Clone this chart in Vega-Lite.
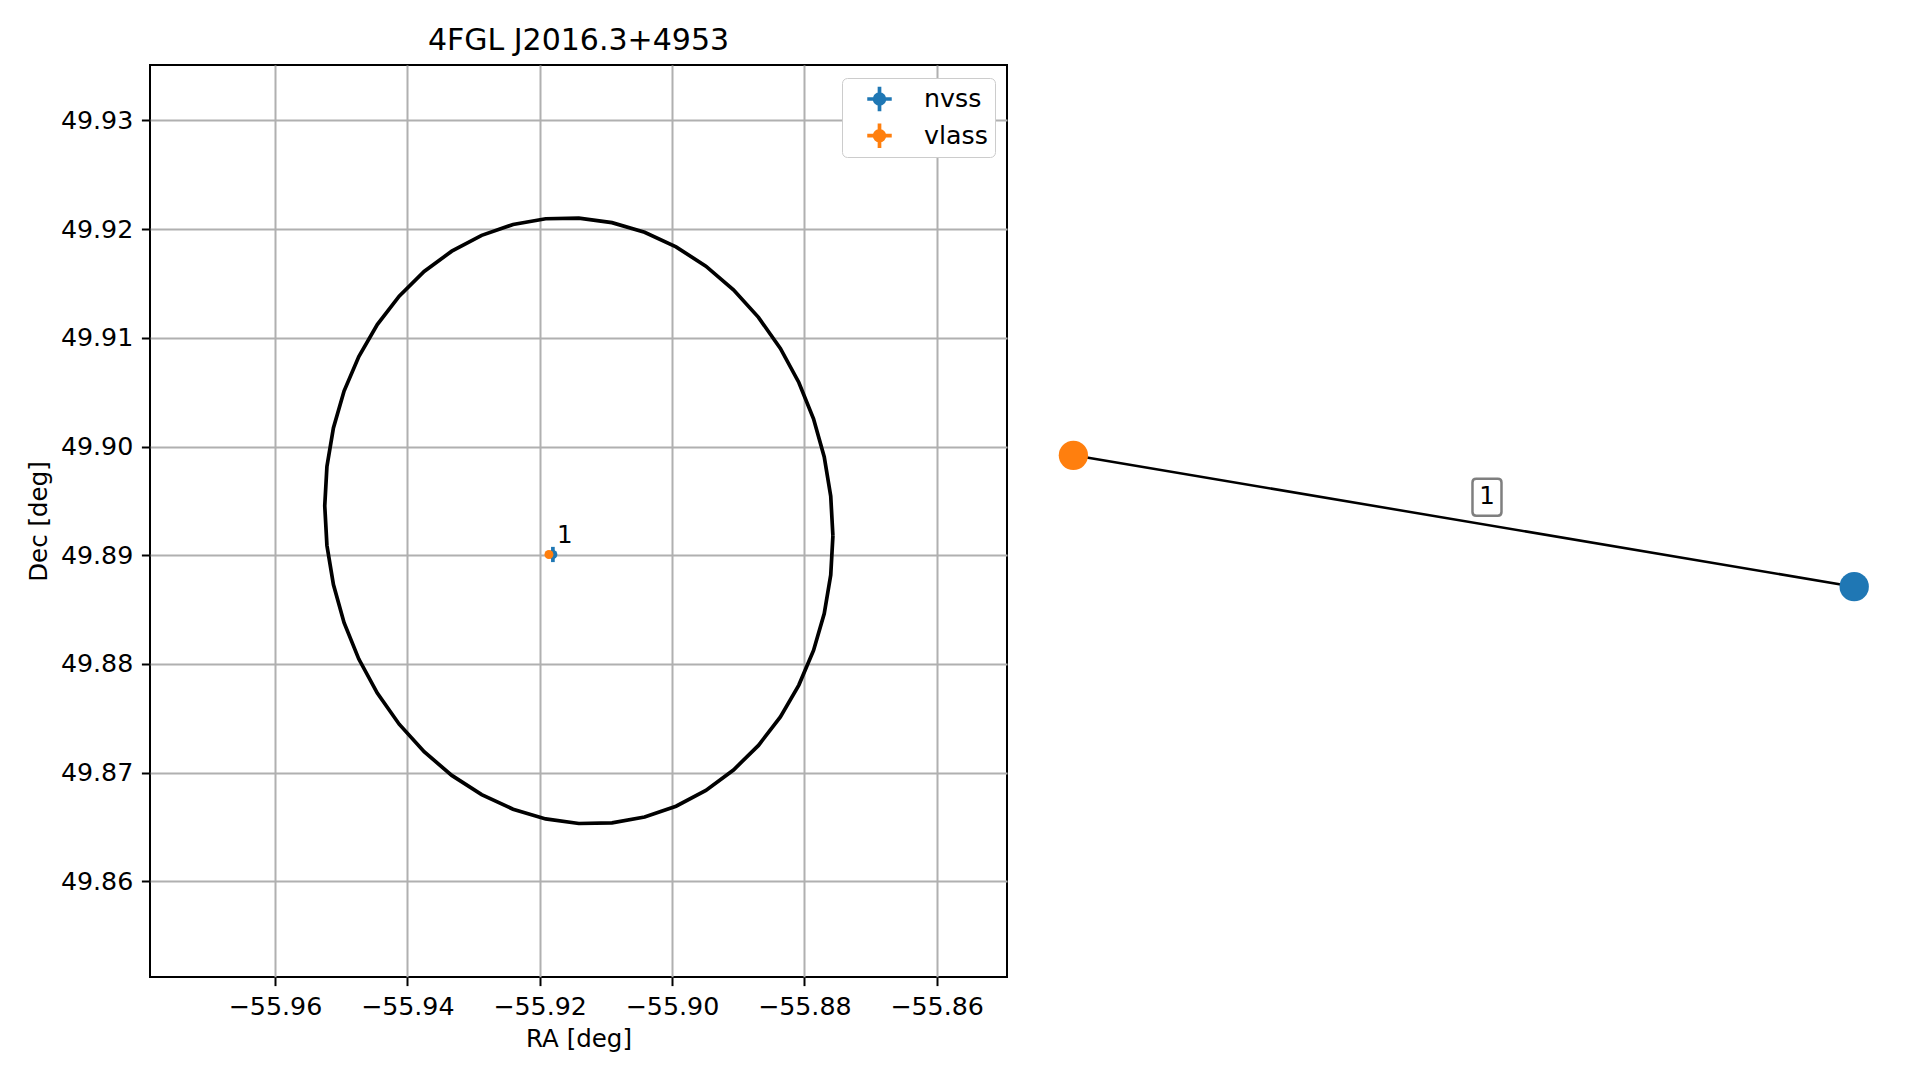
{
  "$schema": "https://vega.github.io/schema/vega-lite/v6.json",
  "background": "white",
  "padding": {"left": 25, "top": 24, "right": 5, "bottom": 5},
  "config": {
    "font": "DejaVu Sans",
    "view": {"stroke": null},
    "concat": {"spacing": 20},
    "title": {"font": "DejaVu Sans", "fontSize": 30, "fontWeight": "normal", "color": "black", "offset": 9.5, "anchor": "middle"},
    "axis": {
      "grid": true, "gridColor": "#b0b0b0", "gridWidth": 2,
      "domain": false, "ticks": true, "tickColor": "black", "tickWidth": 2, "tickSize": 8.6,
      "labelPadding": 8.6, "labelFont": "DejaVu Sans", "labelFontSize": 25.3, "labelColor": "black",
      "labelFlush": false, "labelOverlap": false,
      "titleFont": "DejaVu Sans", "titleFontSize": 24.5, "titleFontWeight": "normal", "titleColor": "black"
    }
  },
  "resolve": {"scale": {"color": "independent"}, "legend": {"color": "independent"}},
  "datasets": {
    "ellipse": [
      {"i": 0, "ra": -55.87567, "dec": 49.89179},
      {"i": 1, "ra": -55.87600, "dec": 49.89544},
      {"i": 2, "ra": -55.87698, "dec": 49.89904},
      {"i": 3, "ra": -55.87860, "dec": 49.90255},
      {"i": 4, "ra": -55.88082, "dec": 49.90589},
      {"i": 5, "ra": -55.88361, "dec": 49.90902},
      {"i": 6, "ra": -55.88692, "dec": 49.91188},
      {"i": 7, "ra": -55.89070, "dec": 49.91442},
      {"i": 8, "ra": -55.89487, "dec": 49.91659},
      {"i": 9, "ra": -55.89938, "dec": 49.91836},
      {"i": 10, "ra": -55.90413, "dec": 49.91970},
      {"i": 11, "ra": -55.90906, "dec": 49.92059},
      {"i": 12, "ra": -55.91407, "dec": 49.92101},
      {"i": 13, "ra": -55.91908, "dec": 49.92095},
      {"i": 14, "ra": -55.92401, "dec": 49.92042},
      {"i": 15, "ra": -55.92876, "dec": 49.91942},
      {"i": 16, "ra": -55.93327, "dec": 49.91797},
      {"i": 17, "ra": -55.93745, "dec": 49.91610},
      {"i": 18, "ra": -55.94122, "dec": 49.91383},
      {"i": 19, "ra": -55.94453, "dec": 49.91121},
      {"i": 20, "ra": -55.94732, "dec": 49.90828},
      {"i": 21, "ra": -55.94955, "dec": 49.90510},
      {"i": 22, "ra": -55.95116, "dec": 49.90171},
      {"i": 23, "ra": -55.95214, "dec": 49.89817},
      {"i": 24, "ra": -55.95247, "dec": 49.89455},
      {"i": 25, "ra": -55.95214, "dec": 49.89090},
      {"i": 26, "ra": -55.95116, "dec": 49.88730},
      {"i": 27, "ra": -55.94955, "dec": 49.88379},
      {"i": 28, "ra": -55.94732, "dec": 49.88045},
      {"i": 29, "ra": -55.94453, "dec": 49.87732},
      {"i": 30, "ra": -55.94122, "dec": 49.87446},
      {"i": 31, "ra": -55.93745, "dec": 49.87193},
      {"i": 32, "ra": -55.93327, "dec": 49.86975},
      {"i": 33, "ra": -55.92876, "dec": 49.86798},
      {"i": 34, "ra": -55.92401, "dec": 49.86664},
      {"i": 35, "ra": -55.91908, "dec": 49.86575},
      {"i": 36, "ra": -55.91407, "dec": 49.86533},
      {"i": 37, "ra": -55.90906, "dec": 49.86539},
      {"i": 38, "ra": -55.90413, "dec": 49.86592},
      {"i": 39, "ra": -55.89938, "dec": 49.86692},
      {"i": 40, "ra": -55.89487, "dec": 49.86837},
      {"i": 41, "ra": -55.89070, "dec": 49.87025},
      {"i": 42, "ra": -55.88692, "dec": 49.87251},
      {"i": 43, "ra": -55.88361, "dec": 49.87513},
      {"i": 44, "ra": -55.88082, "dec": 49.87806},
      {"i": 45, "ra": -55.87860, "dec": 49.88124},
      {"i": 46, "ra": -55.87698, "dec": 49.88463},
      {"i": 47, "ra": -55.87600, "dec": 49.88817},
      {"i": 48, "ra": -55.87567, "dec": 49.89179}
    ],
    "sources": [
      {"survey": "nvss", "ra": -55.91799, "dec": 49.89007, "ra_lo": -55.91819, "ra_hi": -55.91779, "dec_lo": 49.88937, "dec_hi": 49.89077},
      {"survey": "vlass", "ra": -55.91859, "dec": 49.89007, "ra_lo": -55.91864, "ra_hi": -55.91854, "dec_lo": 49.89002, "dec_hi": 49.89012}
    ],
    "annot": [
      {"ra": -55.91799, "dec": 49.89007, "label": "1"}
    ],
    "nodes": [
      {"survey": "vlass", "x": -1, "y": 0.1683},
      {"survey": "nvss", "x": 1, "y": -0.1683}
    ],
    "edges": [
      {"x1": -1, "y1": 0.1683, "x2": 1, "y2": -0.1683}
    ],
    "edgelabels": [
      {"x": 0.0594, "y": 0.0607, "label": "1"}
    ]
  },
  "hconcat": [
    {
      "width": 857,
      "height": 912,
      "title": {"text": "4FGL J2016.3+4953"},
      "view": {"stroke": "black", "strokeWidth": 2},
      "layer": [
        {
          "data": {"name": "ellipse"},
          "mark": {"type": "line", "color": "black", "strokeWidth": 3.7},
          "encoding": {
            "x": {"field": "ra", "type": "quantitative",
                  "scale": {"domain": [-55.97888, -55.84936], "nice": false, "zero": false},
                  "axis": {"title": "RA [deg]", "values": [-55.96, -55.94, -55.92, -55.90, -55.88, -55.86], "format": ".2f", "titlePadding": 8}},
            "y": {"field": "dec", "type": "quantitative",
                  "scale": {"domain": [49.85121, 49.93509], "nice": false, "zero": false},
                  "axis": {"title": "Dec [deg]", "values": [49.86, 49.87, 49.88, 49.89, 49.90, 49.91, 49.92, 49.93], "format": ".2f", "titlePadding": 9}},
            "order": {"field": "i", "type": "quantitative"}
          }
        },
        {
          "data": {"name": "sources"},
          "mark": {"type": "rule", "strokeWidth": 3.7},
          "encoding": {
            "x": {"field": "ra", "type": "quantitative"},
            "y": {"field": "dec_lo", "type": "quantitative"},
            "y2": {"field": "dec_hi"},
            "color": {"field": "survey", "type": "nominal", "scale": {"domain": ["nvss", "vlass"], "range": ["#1f77b4", "#ff7f0e"]}}
          }
        },
        {
          "data": {"name": "sources"},
          "mark": {"type": "rule", "strokeWidth": 3.7},
          "encoding": {
            "x": {"field": "ra_lo", "type": "quantitative"},
            "x2": {"field": "ra_hi"},
            "y": {"field": "dec", "type": "quantitative"},
            "color": {"field": "survey", "type": "nominal"}
          }
        },
        {
          "data": {"name": "sources"},
          "mark": {"type": "point", "filled": true, "shape": "circle", "size": 80, "opacity": 1},
          "encoding": {
            "x": {"field": "ra", "type": "quantitative"},
            "y": {"field": "dec", "type": "quantitative"},
            "color": {"field": "survey", "type": "nominal",
              "legend": {
                "title": null, "orient": "top-right", "offset": 12.5,
                "padding": 7, "fillColor": "white", "strokeColor": "#cccccc", "cornerRadius": 5,
                "labelFont": "DejaVu Sans", "labelFontSize": 25.3, "labelColor": "black",
                "symbolType": "M-1,0H1M0,-1V1M0.4,0A0.4,0.4,0,1,1,-0.4,0A0.4,0.4,0,1,1,0.4,0Z",
                "symbolSize": 600, "symbolStrokeWidth": 3.7, "symbolOffset": 16, "labelOffset": 30,
                "clipHeight": 28, "rowPadding": 8.7,
                "symbolOpacity": 1,
                "encode": {"symbols": {"update": {"stroke": {"scale": "color", "field": "value"}, "fill": {"scale": "color", "field": "value"}, "opacity": {"value": 1}}}}
              }}
          }
        },
        {
          "data": {"name": "annot"},
          "mark": {"type": "text", "fontSize": 24.5, "color": "black", "align": "center", "baseline": "middle", "dx": 12, "dy": -18},
          "encoding": {
            "x": {"field": "ra", "type": "quantitative"},
            "y": {"field": "dec", "type": "quantitative"},
            "text": {"field": "label"}
          }
        }
      ]
    },
    {
      "width": 860,
      "height": 912,
      "title": {"text": " "},
      "layer": [
        {
          "data": {"name": "edges"},
          "mark": {"type": "rule", "color": "black", "strokeWidth": 2.5},
          "encoding": {
            "x": {"field": "x1", "type": "quantitative", "scale": {"domain": [-1.1163, 1.0866], "nice": false, "zero": false}, "axis": null},
            "y": {"field": "y1", "type": "quantitative", "scale": {"domain": [-1.168, 1.168], "nice": false, "zero": false}, "axis": null},
            "x2": {"field": "x2"},
            "y2": {"field": "y2"}
          }
        },
        {
          "data": {"name": "nodes"},
          "mark": {"type": "point", "filled": true, "shape": "circle", "size": 860, "opacity": 1},
          "encoding": {
            "x": {"field": "x", "type": "quantitative"},
            "y": {"field": "y", "type": "quantitative"},
            "color": {"field": "survey", "type": "nominal", "scale": {"domain": ["nvss", "vlass"], "range": ["#1f77b4", "#ff7f0e"]}, "legend": null}
          }
        },
        {
          "data": {"name": "edgelabels"},
          "mark": {"type": "point", "filled": true, "fill": "white", "stroke": "#7f7f7f", "strokeWidth": 2.5, "opacity": 1, "size": 1369,
                   "shape": "M-0.584,-1H0.584Q0.784,-1,0.784,-0.8V0.8Q0.784,1,0.584,1H-0.584Q-0.784,1,-0.784,0.8V-0.8Q-0.784,-1,-0.584,-1Z"},
          "encoding": {
            "x": {"field": "x", "type": "quantitative"},
            "y": {"field": "y", "type": "quantitative"}
          }
        },
        {
          "data": {"name": "edgelabels"},
          "mark": {"type": "text", "fontSize": 24.5, "color": "black", "align": "center", "baseline": "middle"},
          "encoding": {
            "x": {"field": "x", "type": "quantitative"},
            "y": {"field": "y", "type": "quantitative"},
            "text": {"field": "label"}
          }
        }
      ]
    }
  ]
}
